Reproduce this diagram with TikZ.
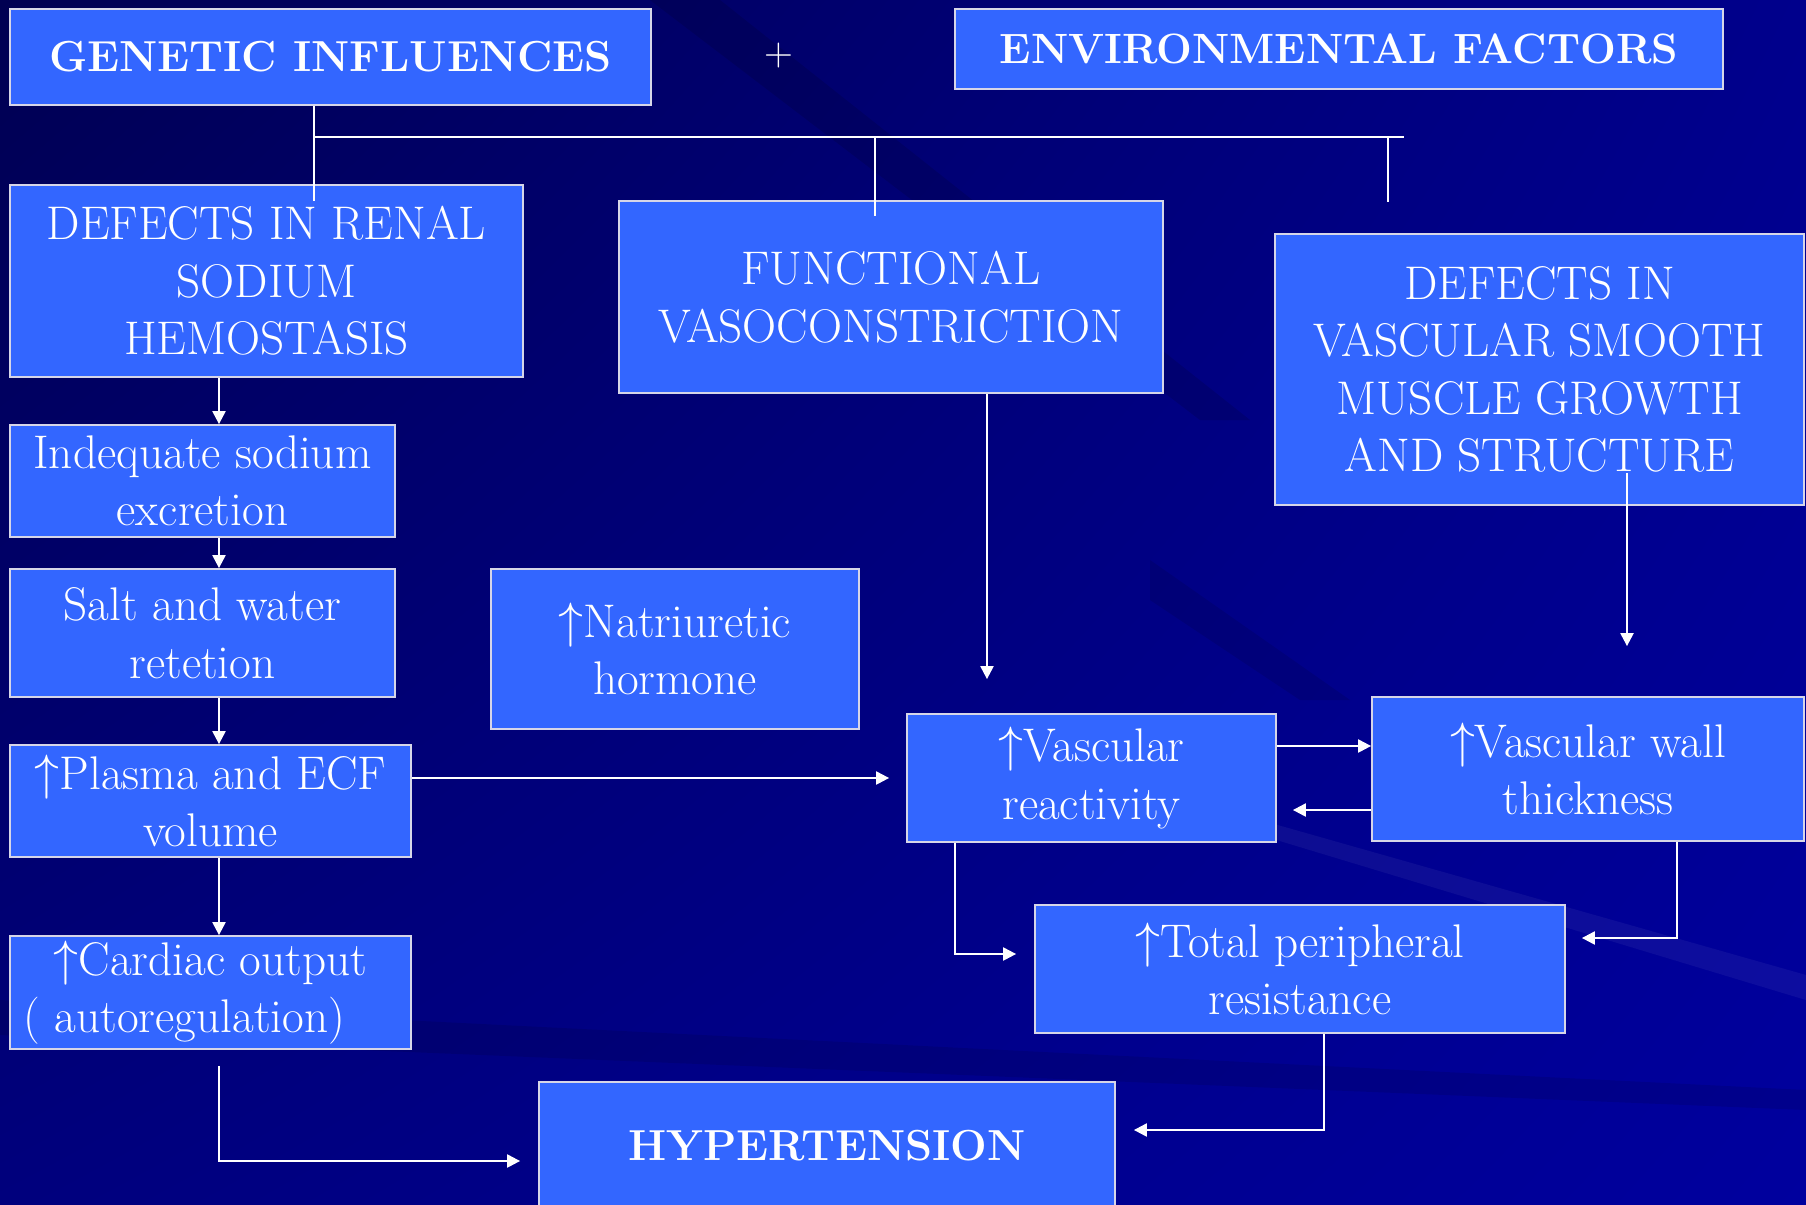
\documentclass[tikz,border=0pt]{standalone}
\usepackage{amsmath,amssymb}
\usepackage{xcolor}
\usepackage{tikz}
\usetikzlibrary{arrows.meta,positioning,calc,shadings}

\definecolor{bgtl}{RGB}{0,0,82}
\definecolor{bgtr}{RGB}{0,0,140}
\definecolor{bgbl}{RGB}{0,0,125}
\definecolor{bgbr}{RGB}{0,0,158}
\definecolor{boxblue}{RGB}{51,102,255}
\definecolor{boxline}{RGB}{214,214,232}

\begin{document}
\begin{tikzpicture}[
x=0.5pt, y=-0.5pt,
block/.style={
    draw=boxline,
    fill=boxblue,
    line width=0.9pt,
    text=white,
    inner sep=0pt,
    align=center,
    font=\fontsize{23.6}{28.75}\selectfont
},
title/.style={block, font=\bfseries\fontsize{21.7}{26}\selectfont},
arrow/.style={-{Triangle[length=6.5pt,width=6.5pt]}, line width=1.1pt, white},
link/.style={line width=1.3pt, white}
]

\shade[upper left=bgtl, upper right=bgtr, lower left=bgbl, lower right=bgbr] (0,0) rectangle (1806,1205);
\fill[black, opacity=0.12] (650,0) -- (720,0) -- (1250,420) -- (1200,420) -- cycle;
\fill[black, opacity=0.10] (1150,560) -- (1350,700) -- (1300,700) -- (1150,600) -- cycle;
\fill[white, opacity=0.05] (1260,820) -- (1806,975) -- (1806,1000) -- (1260,835) -- cycle;
\fill[black, opacity=0.10] (0,1000) -- (1806,1090) -- (1806,1110) -- (0,1035) -- cycle;
\useasboundingbox (0,0) rectangle (1806,1205);

\node[title, minimum width=320.5pt, minimum height=48pt] (genetic) at (330.5,57) {GENETIC INFLUENCES};
\node[text=white, font=\fontsize{20}{22}\selectfont] (plus) at (779,56) {+};
\node[title, minimum width=384pt, minimum height=40pt, font=\bfseries\fontsize{21.2}{24}\selectfont] (environ) at (1339,49) {ENVIRONMENTAL FACTORS};

\node[block, minimum width=256.5pt, minimum height=96pt] (renal) at (266.5,281) {DEFECTS IN RENAL\\SODIUM\\HEMOSTASIS};
\node[block, minimum width=272pt, minimum height=96pt] (functional) at (891,297) {FUNCTIONAL\\VASOCONSTRICTION};
\node[block, minimum width=264.5pt, minimum height=135.5pt] (vsmooth) at (1539.5,369.5) {DEFECTS IN\\VASCULAR SMOOTH\\MUSCLE GROWTH\\AND STRUCTURE};

\node[block, minimum width=192.5pt, minimum height=56pt] (excretion) at (202.5,481) {Indequate sodium\\excretion};
\node[block, minimum width=192.5pt, minimum height=64pt] (retention) at (202.5,633) {Salt and water\\retetion};
\node[block, minimum width=184pt, minimum height=80pt] (natri) at (675,649) {$\uparrow$Natriuretic\\hormone};
\node[block, minimum width=200.5pt, minimum height=56pt] (plasma) at (210.5,801) {$\uparrow$Plasma and ECF\\volume};
\node[block, minimum width=200.5pt, minimum height=56.5pt] (cardiac) at (210.5,992.5) {$\uparrow$Cardiac output\\( autoregulation)\hspace*{26pt}};

\node[block, minimum width=184.5pt, minimum height=64pt] (reactivity) at (1091.5,778) {$\uparrow$Vascular\\reactivity};
\node[block, minimum width=216pt, minimum height=72pt] (wall) at (1588,769) {$\uparrow$Vascular wall\\thickness};
\node[block, minimum width=265pt, minimum height=64pt] (tpr) at (1300,969) {$\uparrow$Total peripheral\\resistance};
\node[title, minimum width=288pt, minimum height=64pt] (hyper) at (827,1146) {HYPERTENSION};

\coordinate (busL) at (314,137);
\coordinate (busM) at (875,137);
\coordinate (busR) at (1404,137);
\coordinate (dropR) at (1388,202);
\coordinate (colA) at (219,0);
\coordinate (colB) at (987,0);
\coordinate (colC) at (1627,0);
\coordinate (colD) at (955,0);
\coordinate (colE) at (1677,0);
\coordinate (colF) at (1324,0);

\draw[link] (genetic.south -| busL) -- ([yshift=-8.5pt]renal.north -| busL);
\draw[link] (busL) -- (busR);
\draw[link] (busM) -- ([yshift=-8pt]functional.north -| busM);
\draw[link] (busR -| dropR) -- (dropR);

\draw[arrow] (renal.south -| colA) -- (excretion.north -| colA);
\draw[arrow] (excretion.south -| colA) -- (retention.north -| colA);
\draw[arrow] (retention.south -| colA) -- (plasma.north -| colA);
\draw[arrow] (plasma.south -| colA) -- (cardiac.north -| colA);
\draw[arrow] ([yshift=-8pt]cardiac.south -| colA) |- ([xshift=-9pt,yshift=-7.5pt]hyper.west);

\draw[arrow] (plasma.east |- reactivity.west) -- ([xshift=-8.5pt]reactivity.west);
\draw[arrow] (functional.south -| colB) -- ([yshift=17pt]reactivity.north -| colB);
\draw[arrow] ([yshift=16.5pt]vsmooth.south -| colC) -- ([yshift=25pt]wall.north -| colC);

\draw[arrow] ([yshift=16pt]reactivity.east) -- ([yshift=16pt]reactivity.east -| wall.west);
\draw[arrow] ([yshift=-16pt]reactivity.east -| wall.west) -- ([xshift=8pt,yshift=-16pt]reactivity.east);

\draw[arrow] (reactivity.south -| colD) |- ([xshift=-9pt,yshift=7.5pt]tpr.west);
\draw[arrow] (wall.south -| colE) |- ([xshift=8pt,yshift=15.5pt]tpr.east);
\draw[arrow] (tpr.south -| colF) |- ([xshift=9pt,yshift=8pt]hyper.east);

\end{tikzpicture}
\end{document}
